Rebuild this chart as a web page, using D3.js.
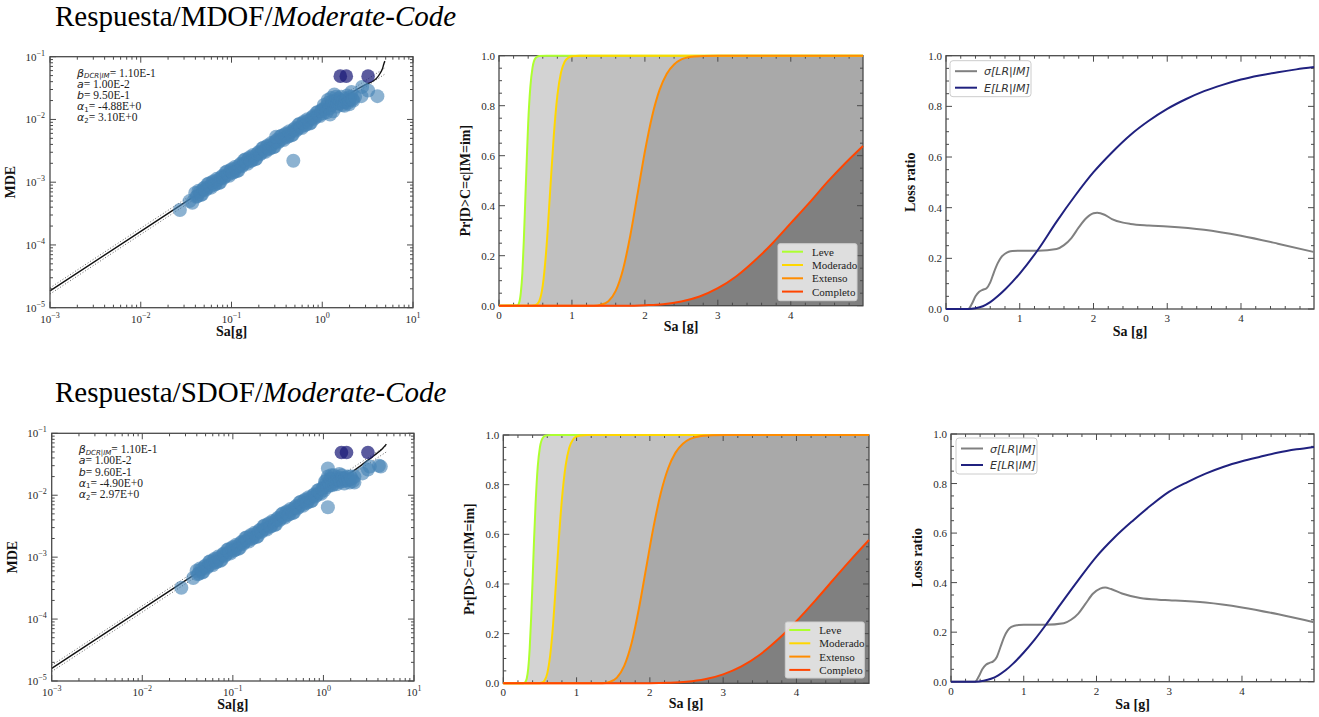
<!DOCTYPE html>
<html>
<head>
<meta charset="utf-8">
<script src="https://cdn.jsdelivr.net/npm/d3@7"></script>
<style>
  body { margin: 0; background: #fff; }
  svg { display: block; font-family: "Liberation Serif", "Times New Roman", serif; }
</style>
</head>
<body>
<svg id="fig" width="1319" height="717"></svg>
<script>
// ---------- Response cloud: Sa [g] vs MDE ----------
const mdofPoints = [
  [0.0270,3.6e-4],[0.0345,5.0e-4],[0.0370,4.7e-4],
  [0.0398,6.71e-4],[0.0422,6.04e-4],[0.0447,6.98e-4],[0.0473,6.43e-4],[0.0501,8.17e-4],[0.0531,7.87e-4],
  [0.0562,9.53e-4],[0.0596,8.18e-4],[0.0631,1.04e-3],[0.0668,9.35e-4],[0.0708,1.08e-3],[0.0750,9.95e-4],
  [0.0794,1.26e-3],[0.0841,1.22e-3],[0.0891,1.48e-3],[0.0944,1.27e-3],[0.100,1.61e-3],[0.106,1.45e-3],
  [0.112,1.67e-3],[0.119,1.54e-3],[0.126,1.96e-3],[0.133,1.89e-3],[0.141,2.29e-3],[0.150,1.96e-3],
  [0.158,2.49e-3],[0.168,2.24e-3],[0.178,2.59e-3],[0.188,2.39e-3],[0.200,3.03e-3],[0.211,2.92e-3],
  [0.224,3.54e-3],[0.237,3.04e-3],[0.251,3.86e-3],[0.266,3.48e-3],[0.282,4.02e-3],[0.299,3.70e-3],
  [0.316,4.70e-3],[0.335,4.53e-3],[0.355,5.48e-3],[0.376,4.71e-3],[0.398,5.98e-3],[0.422,5.38e-3],
  [0.447,6.22e-3],[0.473,5.73e-3],[0.501,7.28e-3],[0.531,7.02e-3],[0.562,8.49e-3],[0.596,7.29e-3],
  [0.631,9.27e-3],[0.668,8.34e-3],[0.708,9.64e-3],[0.750,8.87e-3],[0.794,1.13e-2],[0.841,1.09e-2],
  [0.891,1.32e-2],[0.944,1.13e-2],[1.000,1.44e-2],
  [0.0410,5.87e-4],[0.0434,7.29e-4],[0.0460,6.25e-4],[0.0487,7.76e-4],[0.0516,7.48e-4],[0.0546,9.29e-4],
  [0.0578,8.53e-4],[0.0613,9.89e-4],[0.0649,9.10e-4],[0.0688,1.13e-3],[0.0729,9.68e-4],[0.0772,1.20e-3],
  [0.0817,1.16e-3],[0.0866,1.44e-3],[0.0917,1.32e-3],[0.0972,1.53e-3],[0.103,1.41e-3],[0.109,1.75e-3],
  [0.115,1.50e-3],[0.122,1.86e-3],[0.130,1.79e-3],[0.137,2.23e-3],[0.145,2.05e-3],[0.154,2.37e-3],
  [0.163,2.18e-3],[0.173,2.71e-3],[0.183,2.32e-3],[0.194,2.88e-3],[0.206,2.78e-3],[0.218,3.45e-3],
  [0.231,3.17e-3],[0.244,3.67e-3],[0.259,3.38e-3],[0.274,4.20e-3],[0.290,3.60e-3],[0.307,4.47e-3],
  [0.326,4.31e-3],[0.345,5.35e-3],[0.365,4.91e-3],[0.387,5.69e-3],[0.410,5.24e-3],[0.434,6.50e-3],
  [0.460,5.57e-3],[0.487,6.92e-3],[0.516,6.67e-3],[0.546,8.28e-3],[0.578,7.60e-3],[0.613,8.81e-3],
  [0.649,8.11e-3],[0.688,1.01e-2],[0.729,8.63e-3],[0.772,1.07e-2],[0.818,1.03e-2],[0.866,1.28e-2],
  [0.917,1.18e-2],[0.972,1.36e-2],
  [1.02,1.25e-2],[1.04,1.7e-2],[1.06,1.45e-2],[1.10,1.6e-2],[1.12,1.3e-2],[1.15,2.05e-2],[1.17,1.85e-2],
  [1.20,1.5e-2],[1.22,1.2e-2],[1.25,2.2e-2],[1.28,1.7e-2],[1.30,1.95e-2],[1.32,1.35e-2],[1.36,2.5e-2],
  [1.40,1.95e-2],[1.42,2.3e-2],[1.45,1.6e-2],[1.48,1.8e-2],[1.50,2.15e-2],[1.56,1.8e-2],[1.58,2.05e-2],
  [1.62,2.3e-2],[1.66,1.7e-2],[1.70,1.95e-2],[1.76,1.65e-2],[1.80,1.9e-2],[1.84,2.15e-2],[1.88,2.4e-2],
  [1.92,1.85e-2],[1.98,1.75e-2],[2.00,2.05e-2],[2.05,2.3e-2],[2.10,2.75e-2],[2.15,2.1e-2],[2.20,2.0e-2],
  [2.30,2.3e-2],[2.70,2.35e-2],[2.75,3.3e-2],[3.20,2.9e-2],[4.05,2.35e-2],
  [0.48,2.2e-3],[0.31,5.3e-3]
];
const mdofCollapse = [[1.58,0.049],[1.84,0.049],[3.20,0.049]];
const mdofFit = [[0.001,1.85e-5],[0.01,1.65e-4],[0.1,1.47e-3],[1,1.31e-2],[2,2.53e-2],[2.4,3.0e-2],
  [3.0,3.6e-2],[3.66,4.13e-2],[4.0,4.6e-2],[4.33,5.4e-2],[4.6,6.4e-2],[4.79,7.8e-2],[4.9,8.5e-2]];
const mdofBandUp = [[0.001,2.07e-5],[4.9,6.64e-2]];
const mdofBandLo = [[0.001,1.65e-5],[4.9,5.28e-2]];
const mdofNotes = ["1.10E-1","1.00E-2","9.50E-1","-4.88E+0","3.10E+0"];

const sdofPoints = [
  [0.0270,3.2e-4],[0.0365,4.6e-4],
  [0.0398,6.04e-4],[0.0422,5.43e-4],[0.0447,6.30e-4],[0.0473,5.79e-4],[0.0501,7.36e-4],[0.0531,7.10e-4],
  [0.0562,8.61e-4],[0.0596,7.40e-4],[0.0631,9.40e-4],[0.0668,8.45e-4],[0.0708,9.79e-4],[0.0750,9.02e-4],
  [0.0794,1.15e-3],[0.0841,1.10e-3],[0.0891,1.34e-3],[0.0944,1.15e-3],[0.100,1.46e-3],[0.106,1.32e-3],
  [0.112,1.52e-3],[0.119,1.40e-3],[0.126,1.78e-3],[0.133,1.72e-3],[0.141,2.08e-3],[0.150,1.79e-3],
  [0.158,2.28e-3],[0.168,2.05e-3],[0.178,2.37e-3],[0.188,2.18e-3],[0.200,2.77e-3],[0.211,2.67e-3],
  [0.224,3.24e-3],[0.237,2.79e-3],[0.251,3.54e-3],[0.266,3.18e-3],[0.282,3.69e-3],[0.299,3.40e-3],
  [0.316,4.32e-3],[0.335,4.16e-3],[0.355,5.05e-3],[0.376,4.34e-3],[0.398,5.51e-3],[0.422,4.95e-3],
  [0.447,5.74e-3],[0.473,5.28e-3],[0.501,6.71e-3],[0.531,6.47e-3],[0.562,7.85e-3],[0.596,6.75e-3],
  [0.631,8.57e-3],[0.668,7.71e-3],[0.708,8.93e-3],[0.750,8.22e-3],[0.794,1.04e-2],[0.841,1.01e-2],
  [0.891,1.22e-2],[0.944,1.05e-2],[1.000,1.33e-2],
  [0.0410,5.28e-4],[0.0434,6.56e-4],[0.0460,5.64e-4],[0.0487,7.00e-4],[0.0516,6.75e-4],[0.0546,8.38e-4],
  [0.0578,7.71e-4],[0.0613,8.93e-4],[0.0649,8.22e-4],[0.0688,1.02e-3],[0.0729,8.77e-4],[0.0772,1.09e-3],
  [0.0817,1.05e-3],[0.0866,1.30e-3],[0.0917,1.20e-3],[0.0972,1.39e-3],[0.103,1.28e-3],[0.109,1.59e-3],
  [0.115,1.36e-3],[0.122,1.69e-3],[0.130,1.63e-3],[0.137,2.03e-3],[0.145,1.87e-3],[0.154,2.16e-3],
  [0.163,1.99e-3],[0.173,2.47e-3],[0.183,2.12e-3],[0.194,2.64e-3],[0.206,2.54e-3],[0.218,3.16e-3],
  [0.231,2.90e-3],[0.244,3.37e-3],[0.259,3.10e-3],[0.274,3.85e-3],[0.290,3.30e-3],[0.307,4.10e-3],
  [0.326,3.95e-3],[0.345,4.91e-3],[0.365,4.52e-3],[0.387,5.24e-3],[0.410,4.82e-3],[0.434,5.98e-3],
  [0.460,5.14e-3],[0.487,6.38e-3],[0.516,6.15e-3],[0.546,7.64e-3],[0.578,7.03e-3],[0.613,8.15e-3],
  [0.649,7.50e-3],[0.688,9.31e-3],[0.729,8.00e-3],[0.772,9.93e-3],[0.818,9.57e-3],[0.866,1.19e-2],
  [0.917,1.09e-2],[0.972,1.27e-2],
  [1.02,1.2e-2],[1.04,1.65e-2],[1.05,1.5e-2],[1.08,1.75e-2],[1.10,1.35e-2],[1.12,2.0e-2],[1.15,1.6e-2],
  [1.18,1.45e-2],[1.20,1.85e-2],[1.22,2.1e-2],[1.25,1.45e-2],[1.30,2.1e-2],[1.32,1.55e-2],[1.35,1.7e-2],
  [1.40,1.5e-2],[1.42,1.8e-2],[1.45,1.95e-2],[1.50,2.2e-2],[1.52,1.75e-2],[1.55,1.65e-2],[1.60,2.1e-2],
  [1.62,1.9e-2],[1.66,1.7e-2],[1.70,1.55e-2],[1.75,1.9e-2],[1.78,1.75e-2],[1.85,2.0e-2],[1.90,1.75e-2],
  [1.95,1.6e-2],[2.00,2.0e-2],[2.05,1.85e-2],[2.12,1.7e-2],[2.20,2.0e-2],[2.20,1.6e-2],
  [2.70,2.25e-2],[3.10,2.6e-2],[3.25,2.9e-2],[4.10,3.0e-2],[4.30,2.9e-2],
  [1.12,6.4e-3],[1.12,2.7e-2]
];
const sdofCollapse = [[1.58,0.049],[1.80,0.049],[3.10,0.049]];
const sdofFit = [[0.001,1.6e-5],[0.01,1.46e-4],[0.1,1.33e-3],[1,1.22e-2],[2,2.3e-2],[2.5,2.9e-2],
  [3.0,3.55e-2],[3.5,4.2e-2],[4.0,4.9e-2],[4.5,5.7e-2],[4.95,6.7e-2]];
const sdofBandUp = [[0.001,1.79e-5],[4.95,6.3e-2]];
const sdofBandLo = [[0.001,1.42e-5],[4.95,5.0e-2]];
const sdofNotes = ["1.10E-1","1.00E-2","9.60E-1","-4.90E+0","2.97E+0"];

// ---------- Fragility curves: Pr[D>C=c|IM=im] ----------
const damageStates = ["Leve","Moderado","Extenso","Completo"];
const stateColors = ["#adff2f","#ffd700","#ff8c00","#ff4500"];
const stateFills = ["#d3d3d3","#c0c0c0","#a9a9a9","#808080"];

const mdofLeve = [[0,0],[0.25,0.001],[0.28,0.016],[0.30,0.054],[0.32,0.13],[0.34,0.26],[0.36,0.42],[0.38,0.58],
  [0.40,0.73],[0.43,0.876],[0.46,0.953],[0.50,0.99],[0.55,0.999],[0.65,1],[4.99,1]];
const mdofModerado = [[0,0],[0.45,0],[0.50,0.002],[0.55,0.017],[0.60,0.081],[0.65,0.23],[0.70,0.453],[0.75,0.676],
  [0.80,0.84],[0.85,0.933],[0.90,0.976],[0.95,0.992],[1.00,0.998],[1.1,1],[4.99,1]];
const mdofExtenso = [[0,0],[1.3,0],[1.4,0.004],[1.5,0.018],[1.6,0.059],[1.7,0.145],[1.8,0.281],[1.9,0.448],
  [2.0,0.617],[2.1,0.759],[2.2,0.862],[2.3,0.928],[2.4,0.965],[2.5,0.985],[2.65,0.996],[2.8,0.999],[3.0,1],[4.99,1]];
const mdofCompleto = [[0,0],[1.75,0],[2.0,0.002],[2.25,0.006],[2.5,0.017],[2.75,0.037],[3.0,0.07],[3.25,0.117],
  [3.5,0.179],[3.75,0.25],[4.0,0.33],[4.25,0.41],[4.5,0.494],[4.75,0.571],[4.99,0.639]];

const sdofLeve = [[0,0],[0.27,0],[0.30,0.005],[0.32,0.019],[0.34,0.059],[0.36,0.14],[0.38,0.264],[0.40,0.418],
  [0.42,0.58],[0.44,0.72],[0.47,0.873],[0.50,0.951],[0.54,0.989],[0.58,0.998],[0.65,1],[4.99,1]];
const sdofModerado = [[0,0],[0.48,0],[0.52,0.002],[0.56,0.01],[0.60,0.04],[0.64,0.113],[0.68,0.24],[0.72,0.41],
  [0.76,0.588],[0.80,0.742],[0.85,0.876],[0.90,0.949],[0.95,0.981],[1.00,0.994],[1.05,0.998],[1.15,1],[4.99,1]];
const sdofExtenso = [[0,0],[1.35,0],[1.45,0.005],[1.55,0.023],[1.65,0.07],[1.75,0.161],[1.85,0.30],[1.95,0.466],
  [2.05,0.63],[2.15,0.767],[2.25,0.866],[2.35,0.929],[2.45,0.965],[2.55,0.984],[2.7,0.996],[2.85,0.999],[3.05,1],[4.99,1]];
const sdofCompleto = [[0,0],[1.8,0],[2.0,0.0003],[2.25,0.002],[2.5,0.006],[2.75,0.016],[3.0,0.036],[3.25,0.068],
  [3.5,0.115],[3.75,0.177],[4.0,0.25],[4.25,0.331],[4.5,0.416],[4.75,0.5],[4.99,0.577]];

// ---------- Vulnerability: loss ratio ----------
const mdofSigmaLR = [[0,0],[0.3,0],[0.35,0.02],[0.40,0.05],[0.45,0.068],[0.50,0.076],[0.55,0.082],[0.60,0.105],
  [0.65,0.145],[0.70,0.18],[0.75,0.205],[0.80,0.218],[0.85,0.226],[0.90,0.229],[1.0,0.23],[1.25,0.23],[1.5,0.237],
  [1.6,0.252],[1.7,0.28],[1.8,0.322],[1.9,0.358],[2.0,0.378],[2.05,0.38],[2.15,0.372],[2.25,0.355],[2.4,0.341],
  [2.5,0.336],[2.75,0.33],[3.0,0.326],[3.5,0.313],[4.0,0.289],[4.5,0.258],[4.99,0.225]];
const mdofMeanLR = [[0,0],[0.3,0],[0.4,0.003],[0.5,0.011],[0.6,0.027],[0.7,0.05],[0.8,0.077],[0.9,0.107],[1.0,0.14],
  [1.25,0.235],[1.5,0.345],[1.75,0.447],[2.0,0.54],[2.25,0.618],[2.5,0.687],[2.75,0.743],[3.0,0.79],[3.25,0.828],
  [3.5,0.86],[3.75,0.885],[4.0,0.906],[4.25,0.922],[4.5,0.935],[4.75,0.946],[4.99,0.955]];

const sdofSigmaLR = [[0,0],[0.33,0],[0.38,0.02],[0.43,0.05],[0.48,0.068],[0.53,0.076],[0.58,0.082],[0.63,0.10],
  [0.68,0.14],[0.73,0.18],[0.78,0.207],[0.83,0.221],[0.93,0.229],[1.0,0.23],[1.3,0.23],[1.55,0.236],[1.65,0.25],
  [1.75,0.275],[1.85,0.315],[1.95,0.355],[2.05,0.376],[2.12,0.38],[2.2,0.374],[2.35,0.356],[2.6,0.338],
  [2.85,0.331],[3.0,0.329],[3.5,0.32],[4.0,0.30],[4.5,0.272],[4.99,0.24]];
const sdofMeanLR = [[0,0],[0.33,0],[0.45,0.004],[0.55,0.012],[0.65,0.026],[0.75,0.046],[0.85,0.072],[1.0,0.118],
  [1.15,0.17],[1.3,0.228],[1.5,0.31],[1.75,0.41],[2.0,0.505],[2.25,0.583],[2.5,0.65],[2.75,0.712],[3.0,0.767],
  [3.25,0.806],[3.5,0.84],[3.75,0.868],[4.0,0.89],[4.25,0.908],[4.5,0.925],[4.75,0.938],[4.99,0.948]];

const lossLabels = ["σ[LR|IM]", "E[LR|IM]"];
const lossColors = ["#808080", "#20217f"];

const linTicksX = [0,1,2,3,4];
const linTicksY = [0,0.2,0.4,0.6,0.8,1.0];
const logTicksX = [1e-3,1e-2,1e-1,1,10];
const logTicksY = [1e-5,1e-4,1e-3,1e-2,1e-1];

// ---------- drawing ----------
const svg = d3.select("#fig");
const SERIF = '"Liberation Serif","Times New Roman",serif';
const MATH = '"DejaVu Sans",sans-serif';
const frameColor = "#4a4a4a";
const labelColor = "#2a2a2a";

function title(y, mid) {
  const t = svg.append("text").attr("x", 55).attr("y", y)
    .attr("font-size", 29).attr("fill", "#000").attr("font-family", SERIF);
  t.append("tspan").text("Respuesta/" + mid + "/");
  t.append("tspan").attr("font-style", "italic").text("Moderate-Code");
}

function panel(b) {
  const g = svg.append("g").attr("transform", `translate(${b.x0},${b.y0})`);
  return { g, w: b.x1 - b.x0, h: b.y1 - b.y0 };
}

function drawFrameTicks(g, w, h, sx, sy, xMaj, xMin, yMaj, yMin) {
  const t = g.append("g").attr("stroke", frameColor).attr("stroke-width", 1);
  const L = 6, l = 3;
  xMaj.forEach(v => { const X = sx(v);
    t.append("line").attr("x1", X).attr("x2", X).attr("y1", h).attr("y2", h - L);
    t.append("line").attr("x1", X).attr("x2", X).attr("y1", 0).attr("y2", L); });
  xMin.forEach(v => { const X = sx(v);
    t.append("line").attr("x1", X).attr("x2", X).attr("y1", h).attr("y2", h - l);
    t.append("line").attr("x1", X).attr("x2", X).attr("y1", 0).attr("y2", l); });
  yMaj.forEach(v => { const Y = sy(v);
    t.append("line").attr("x1", 0).attr("x2", L).attr("y1", Y).attr("y2", Y);
    t.append("line").attr("x1", w).attr("x2", w - L).attr("y1", Y).attr("y2", Y); });
  yMin.forEach(v => { const Y = sy(v);
    t.append("line").attr("x1", 0).attr("x2", l).attr("y1", Y).attr("y2", Y);
    t.append("line").attr("x1", w).attr("x2", w - l).attr("y1", Y).attr("y2", Y); });
  g.append("rect").attr("width", w).attr("height", h).attr("fill", "none")
    .attr("stroke", frameColor).attr("stroke-width", 1.3);
}

function axisTitles(g, w, h, xText, xDy, yText, yDx) {
  g.append("text").attr("x", w / 2).attr("y", h + xDy).attr("text-anchor", "middle")
    .attr("font-size", 14).attr("font-weight", "bold").attr("fill", "#111").text(xText);
  g.append("text").attr("transform", `translate(${yDx},${h / 2}) rotate(-90)`)
    .attr("text-anchor", "middle").attr("font-size", 14).attr("font-weight", "bold")
    .attr("fill", "#111").text(yText);
}

function supLabel(sel, v) {
  const e = Math.round(Math.log10(v));
  sel.append("tspan").text("10");
  sel.append("tspan").attr("dy", -5).attr("font-size", 8)
    .text(e < 0 ? "\u2212" + (-e) : String(e));
}

function scatterPanel(b, pts, collapse, fit, bandUp, bandLo, notes) {
  const { g, w, h } = panel(b);
  const sx = d3.scaleLog().domain([1e-3, 1e1]).range([0, w]);
  const sy = d3.scaleLog().domain([1e-5, 1e-1]).range([h, 0]);
  const xMin = [], yMin = [];
  logTicksX.slice(0, -1).forEach(d => { for (let k = 2; k < 10; k++) xMin.push(d * k); });
  logTicksY.slice(0, -1).forEach(d => { for (let k = 2; k < 10; k++) yMin.push(d * k); });

  // fitted model and its dispersion band, beneath the records
  const line = d3.line().x(d => sx(d[0])).y(d => sy(d[1]));
  [bandUp, bandLo].forEach(band => g.append("path").attr("d", line(band)).attr("fill", "none")
    .attr("stroke", "#666").attr("stroke-width", 1).attr("stroke-dasharray", "1,2"));
  g.append("path").attr("d", line.curve(d3.curveMonotoneX)(fit)).attr("fill", "none")
    .attr("stroke", "#111").attr("stroke-width", 1.4);

  g.append("g").selectAll("circle").data(pts).join("circle")
    .attr("cx", d => sx(d[0])).attr("cy", d => sy(d[1])).attr("r", 7)
    .attr("fill", "#4682b4").attr("fill-opacity", 0.62);
  g.append("g").selectAll("circle").data(collapse).join("circle")
    .attr("cx", d => sx(d[0])).attr("cy", d => sy(d[1])).attr("r", 6.8)
    .attr("fill", "#1c1c78").attr("fill-opacity", 0.72);

  drawFrameTicks(g, w, h, sx, sy, logTicksX, xMin, logTicksY, yMin);

  logTicksX.forEach(v => {
    const t = g.append("text").attr("x", sx(v)).attr("y", h + 15).attr("text-anchor", "middle")
      .attr("font-size", 11).attr("fill", labelColor);
    supLabel(t, v);
  });
  logTicksY.forEach(v => {
    const t = g.append("text").attr("x", -5).attr("y", sy(v) + 4).attr("text-anchor", "end")
      .attr("font-size", 11).attr("fill", labelColor);
    supLabel(t, v);
  });

  // fitted model parameters
  const names = [["β", "DCR|IM"], ["a", null], ["b", null], ["α", "1"], ["α", "2"]];
  names.forEach((n, i) => {
    const t = g.append("text").attr("x", 27).attr("y", 20 + i * 11.2)
      .attr("font-size", 11.5).attr("fill", "#222");
    t.append("tspan").attr("font-family", MATH).attr("font-style", "italic").attr("font-size", 11).text(n[0]);
    if (n[1]) {
      t.append("tspan").attr("font-family", MATH).attr("font-style", n[1].length > 1 ? "italic" : "normal")
        .attr("font-size", 7).attr("dy", 1.5).text(n[1]);
      t.append("tspan").attr("dy", -1.5).text("= " + notes[i]);
    } else {
      t.append("tspan").text("= " + notes[i]);
    }
  });
  axisTitles(g, w, h, "Sa[g]", 28, "MDE", -35);
}

function linearMinor(lo, hi, step, majorStep) {
  const out = [];
  for (let i = 0; lo + i * step <= hi + 1e-9; i++) {
    const v = +(lo + i * step).toFixed(4);
    if (Math.abs(v / majorStep - Math.round(v / majorStep)) > 1e-6) out.push(v);
  }
  return out;
}

function linearTickLabels(g, w, h, sx, sy) {
  linTicksX.forEach(v => g.append("text").attr("x", sx(v)).attr("y", h + 13).attr("text-anchor", "middle")
    .attr("font-size", 11).attr("fill", labelColor).text(v));
  linTicksY.forEach(v => g.append("text").attr("x", -4).attr("y", sy(v) + 4).attr("text-anchor", "end")
    .attr("font-size", 11).attr("fill", labelColor).text(v.toFixed(1)));
}

function fragilityPanel(b, curves, leg) {
  const { g, w, h } = panel(b);
  const sx = d3.scaleLinear().domain([0, 4.99]).range([0, w]);
  const sy = d3.scaleLinear().domain([0, 1]).range([h, 0]);
  const area = d3.area().x(d => sx(d[0])).y0(h).y1(d => sy(d[1])).curve(d3.curveMonotoneX);
  const line = d3.line().x(d => sx(d[0])).y(d => sy(d[1])).curve(d3.curveMonotoneX);
  curves.forEach((c, i) => g.append("path").attr("d", area(c)).attr("fill", stateFills[i]));
  drawFrameTicks(g, w, h, sx, sy, linTicksX, linearMinor(0, 4.99, 0.2, 1), linTicksY, linearMinor(0, 1, 0.05, 0.2));
  curves.forEach((c, i) => g.append("path").attr("d", line(c)).attr("fill", "none")
    .attr("stroke", stateColors[i]).attr("stroke-width", 2));
  linearTickLabels(g, w, h, sx, sy);

  const lg = g.append("g").attr("transform", `translate(${leg.x},${leg.y})`);
  lg.append("rect").attr("width", leg.w).attr("height", leg.h).attr("rx", 2)
    .attr("fill", "#e6e6e6").attr("fill-opacity", 0.92).attr("stroke", "#cfcfcf");
  damageStates.forEach((s, i) => {
    const y = 8 + i * 13.3;
    lg.append("line").attr("x1", 4).attr("x2", 25).attr("y1", y).attr("y2", y)
      .attr("stroke", stateColors[i]).attr("stroke-width", 2);
    lg.append("text").attr("x", 34).attr("y", y + 4).attr("font-size", 11).attr("fill", "#222").text(s);
  });
  axisTitles(g, w, h, "Sa [g]", 25, "Pr[D>C=c|IM=im]", -29);
}

function lossPanel(b, sigma, mean, leg, yDx) {
  const { g, w, h } = panel(b);
  const sx = d3.scaleLinear().domain([0, 4.99]).range([0, w]);
  const sy = d3.scaleLinear().domain([0, 1]).range([h, 0]);
  const line = d3.line().x(d => sx(d[0])).y(d => sy(d[1])).curve(d3.curveMonotoneX);
  drawFrameTicks(g, w, h, sx, sy, linTicksX, linearMinor(0, 4.99, 0.2, 1), linTicksY, linearMinor(0, 1, 0.05, 0.2));
  [sigma, mean].forEach((c, i) => g.append("path").attr("d", line(c)).attr("fill", "none")
    .attr("stroke", lossColors[i]).attr("stroke-width", 2));
  linearTickLabels(g, w, h, sx, sy);

  const lg = g.append("g").attr("transform", `translate(${leg.x},${leg.y})`);
  lg.append("rect").attr("width", 81).attr("height", 36).attr("rx", 3)
    .attr("fill", "#fff").attr("stroke", "#cccccc");
  lossLabels.forEach((s, i) => {
    const y = 10.5 + i * 16.5;
    lg.append("line").attr("x1", 5).attr("x2", 27).attr("y1", y).attr("y2", y)
      .attr("stroke", lossColors[i]).attr("stroke-width", 2);
    lg.append("text").attr("x", 34).attr("y", y + 4).attr("font-family", MATH)
      .attr("font-style", "italic").attr("font-size", 11).attr("fill", "#333").text(s);
  });
  axisTitles(g, w, h, "Sa [g]", 27, "Loss ratio", yDx);
}

title(26, "MDOF");
title(402, "SDOF");

scatterPanel({ x0: 50, x1: 413, y0: 56.7, y1: 307.7 }, mdofPoints, mdofCollapse, mdofFit, mdofBandUp, mdofBandLo, mdofNotes);
scatterPanel({ x0: 51.7, x1: 414, y0: 433.3, y1: 681 }, sdofPoints, sdofCollapse, sdofFit, sdofBandUp, sdofBandLo, sdofNotes);

fragilityPanel({ x0: 499, x1: 863, y0: 55.7, y1: 305.7 },
  [mdofLeve, mdofModerado, mdofExtenso, mdofCompleto], { x: 279, y: 188, w: 79, h: 57 });
fragilityPanel({ x0: 503.3, x1: 869, y0: 435, y1: 683.3 },
  [sdofLeve, sdofModerado, sdofExtenso, sdofCompleto], { x: 282, y: 187, w: 79, h: 56 });

lossPanel({ x0: 946, x1: 1314, y0: 55.7, y1: 309 }, mdofSigmaLR, mdofMeanLR, { x: 4, y: 5 }, -31);
lossPanel({ x0: 951, x1: 1314, y0: 434, y1: 681.7 }, sdofSigmaLR, sdofMeanLR, { x: 5, y: 4 }, -29);
</script>
</body>
</html>
